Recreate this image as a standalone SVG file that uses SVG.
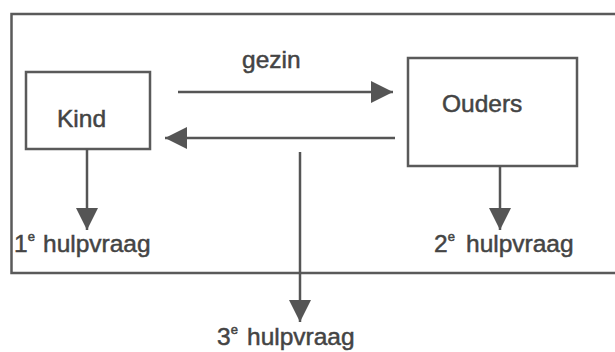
<svg xmlns="http://www.w3.org/2000/svg" width="615" height="352" viewBox="0 0 615 352">
<style>
.box{fill:#fff;stroke:#5a5a5a;stroke-width:2.5}
.frame{fill:none;stroke:#5a5a5a;stroke-width:2.5}
.conn{fill:none;stroke:#555;stroke-width:2.5;marker-end:url(#ah)}
text{font-family:"Liberation Sans",Arial,sans-serif;font-size:24.5px;fill:#444;stroke:#444;stroke-width:0.5}
.sup{font-size:13px}
</style>
<defs>
<marker id="ah" markerUnits="userSpaceOnUse" markerWidth="22" markerHeight="22" viewBox="0 0 20 20" refX="20" refY="10" orient="auto">
<path d="M0,0 L20,10 L0,20 Z" fill="#555"/>
</marker>
</defs>
<rect width="615" height="352" fill="#fff"/>
<path class="frame" d="M617,14 H11.5 V273 H617"/>
<g id="kind">
<rect class="box" x="26" y="72" width="124" height="77"/>
<text x="57" y="127">Kind</text>
</g>
<g id="ouders">
<rect class="box" x="408" y="58" width="169" height="108"/>
<text x="442" y="112">Ouders</text>
</g>
<g id="connectors">
<path class="conn" d="M178,92 H393"/>
<path class="conn" d="M395,138 H165"/>
<path class="conn" d="M87,149 V230"/>
<path class="conn" d="M500,166 V230"/>
<path class="conn" d="M300,152 V322"/>
</g>
<g id="label-gezin"><text x="242" y="68">gezin</text></g>
<g id="hulp1"><text x="14" y="252">1<tspan class="sup" dy="-11">e</tspan><tspan x="43" dy="11">hulpvraag</tspan></text></g>
<g id="hulp2"><text x="434" y="252">2<tspan class="sup" dy="-11">e</tspan><tspan x="466" dy="11">hulpvraag</tspan></text></g>
<g id="hulp3"><text x="217" y="345">3<tspan class="sup" dy="-11">e</tspan><tspan x="247" dy="11">hulpvraag</tspan></text></g>
</svg>
